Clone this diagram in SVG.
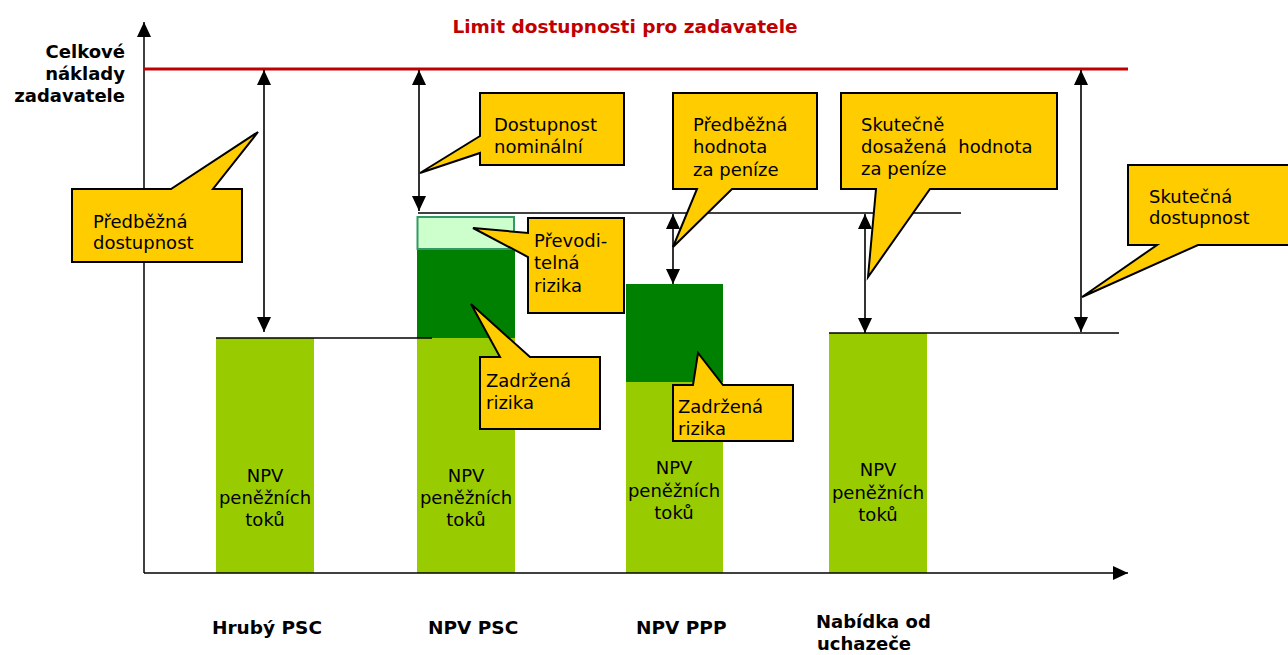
<svg xmlns="http://www.w3.org/2000/svg" width="1288" height="655" viewBox="0 0 1288 655">
<style>
text{font-family:"DejaVu Sans",Verdana,sans-serif;font-size:18px;fill:#000}
.b{font-weight:bold}
.x{font-weight:bold;font-size:18.5px}
.t{fill:#c00000;font-weight:bold;font-size:18.5px}
.c{fill:#ffcc00;stroke:#000;stroke-width:2;stroke-linejoin:miter}
.ln{stroke:#000;stroke-width:1.5;fill:none}
.ar{stroke:#000;stroke-width:1.6;fill:none;marker-start:url(#ah);marker-end:url(#ah)}
.lg{fill:#99cc00}
.dg{fill:#008000}
.m{text-anchor:middle}
</style>
<defs>
<marker id="ah" viewBox="0 0 15 14" refX="15" refY="7" markerWidth="15" markerHeight="14" markerUnits="userSpaceOnUse" orient="auto-start-reverse">
<path d="M0,0 L15,7 L0,14 Z" fill="#000"/>
</marker>
<marker id="ax" viewBox="0 0 15 14" refX="15" refY="7" markerWidth="15" markerHeight="14" markerUnits="userSpaceOnUse" orient="auto">
<path d="M0,0 L15,7 L0,14 Z" fill="#000"/>
</marker>
</defs>

<g id="title">
<text class="t m" x="625" y="33">Limit dostupnosti pro zadavatele</text>
</g>
<g id="ylabel">
<text class="b" text-anchor="end" x="125" y="58">Celkové</text>
<text class="b" text-anchor="end" x="125" y="80">náklady</text>
<text class="b" text-anchor="end" x="125" y="102">zadavatele</text>
</g>

<g id="bar-hruby">
<rect class="lg" x="216" y="338" width="98" height="235"/>
<text class="m" x="265" y="482">NPV</text>
<text class="m" x="265" y="504">peněžních</text>
<text class="m" x="265" y="526">toků</text>
</g>
<g id="bar-npvpsc">
<rect class="lg" x="417" y="338" width="98" height="235"/>
<rect class="dg" x="417" y="249" width="98" height="89"/>
<rect x="417.5" y="217" width="96.5" height="32" fill="#ccffcc" stroke="#339966" stroke-width="2"/>
<text class="m" x="466" y="482">NPV</text>
<text class="m" x="466" y="504">peněžních</text>
<text class="m" x="466" y="526">toků</text>
</g>
<g id="bar-npvppp">
<rect class="lg" x="626" y="382" width="97" height="191"/>
<rect class="dg" x="626" y="284" width="97" height="98"/>
<text class="m" x="674" y="474">NPV</text>
<text class="m" x="674" y="497">peněžních</text>
<text class="m" x="674" y="519">toků</text>
</g>
<g id="bar-nabidka">
<rect class="lg" x="829" y="333" width="98" height="240"/>
<text class="m" x="878" y="476">NPV</text>
<text class="m" x="878" y="499">peněžních</text>
<text class="m" x="878" y="521">toků</text>
</g>

<g id="connectors">
<line x1="144" y1="573" x2="144" y2="22" class="ln" marker-end="url(#ax)"/>
<line x1="144" y1="573" x2="1128" y2="573" class="ln" marker-end="url(#ax)"/>
<line x1="144" y1="69" x2="1128" y2="69" stroke="#c00000" stroke-width="3"/>
<line x1="216" y1="338" x2="432" y2="338" class="ln"/>
<line x1="418" y1="213" x2="961" y2="213" class="ln"/>
<line x1="829" y1="333" x2="1119" y2="333" class="ln"/>
<line x1="264" y1="70" x2="264" y2="332" class="ar"/>
<line x1="419" y1="70" x2="419" y2="211" class="ar"/>
<line x1="673" y1="214" x2="673" y2="284" class="ar"/>
<line x1="865" y1="214" x2="865" y2="333" class="ar"/>
<line x1="1081" y1="70" x2="1081" y2="332" class="ar"/>
</g>

<g id="callout-predbezna-dostupnost">
<path class="c" d="M72,189 L171,189 L258,132 L213,189 L242,189 L242,262 L72,262 Z"/>
<text x="93" y="228">Předběžná</text>
<text x="93" y="249">dostupnost</text>
</g>
<g id="callout-dostupnost-nominalni">
<path class="c" d="M480,93 L624,93 L624,165 L480,165 L480,153 L420,173 L480,136 Z"/>
<text x="494" y="131">Dostupnost</text>
<text x="494" y="153">nominální</text>
</g>
<g id="callout-predbezna-hodnota">
<path class="c" d="M673,93 L817,93 L817,189 L732,189 L673,247 L697,189 L673,189 Z"/>
<text x="693" y="131">Předběžná</text>
<text x="693" y="153">hodnota</text>
<text x="693" y="176">za peníze</text>
</g>
<g id="callout-prevoditelna">
<path class="c" d="M528,218 L624,218 L624,313 L528,313 L528,257 L473,228 L528,233 Z"/>
<text x="534" y="247">Převodi-</text>
<text x="534" y="269">telná</text>
<text x="534" y="292">rizika</text>
</g>
<g id="callout-zadrzena-psc">
<path class="c" d="M480,357 L500,357 L471,304 L530,357 L600,357 L600,429 L480,429 Z"/>
<text x="486" y="387">Zadržená</text>
<text x="486" y="409">rizika</text>
</g>
<g id="callout-zadrzena-ppp">
<path class="c" d="M673,385 L693,385 L698,353 L723,385 L793,385 L793,441 L673,441 Z"/>
<text x="678" y="413">Zadržená</text>
<text x="678" y="435">rizika</text>
</g>
<g id="callout-skutecne-hodnota">
<path class="c" d="M841,93 L1057,93 L1057,189 L930,189 L868,277 L876,189 L841,189 Z"/>
<text x="861" y="131">Skutečně</text>
<text x="861" y="153" xml:space="preserve">dosažená  hodnota</text>
<text x="861" y="175">za peníze</text>
</g>
<g id="callout-skutecna-dostupnost">
<path class="c" d="M1128,165 L1295,165 L1295,245 L1198,245 L1082,297 L1157,245 L1128,245 Z"/>
<text x="1149" y="203">Skutečná</text>
<text x="1149" y="224">dostupnost</text>
</g>

<g id="xlabels">
<text class="x" x="212" y="634">Hrubý PSC</text>
<text class="x" x="428" y="634">NPV PSC</text>
<text class="x" x="636" y="634">NPV PPP</text>
<text class="b" x="816" y="628">Nabídka od</text>
<text class="b" x="817" y="650">uchazeče</text>
</g>
</svg>
